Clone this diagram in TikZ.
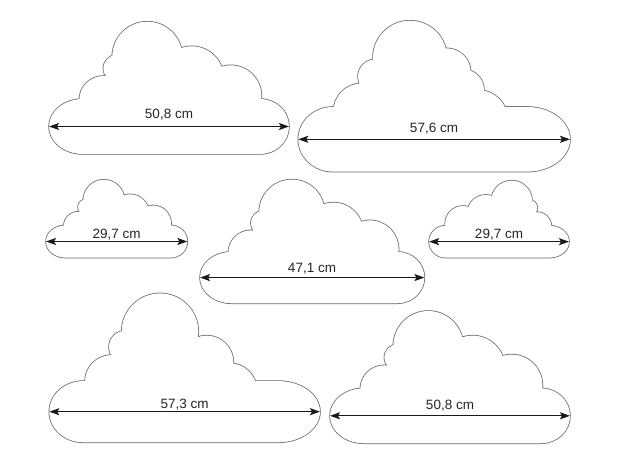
\documentclass[tikz,border=0pt]{standalone}
\usepackage{fontspec}
\setmainfont{Liberation Sans}
\usetikzlibrary{arrows.meta}

\tikzset{
	cloud/.style={fill=white, preaction={draw=black!60, line width=1.5pt}},
	dim/.style={{Stealth[length=10pt,width=7pt,inset=2pt]}-{Stealth[length=10pt,width=7pt,inset=2pt]}, line width=1.3pt, black!90},
	sizelabel/.style={anchor=base, font=\fontsize{13.5}{16}\selectfont, text=black!85}
}

% cloud outlines, local units, origin at the lower left corner
\newcommand{\cloudA}{%
	\path[cloud] (34,27.5) ellipse [x radius=34, y radius=27.5]
		(211,27.5) ellipse [x radius=29, y radius=27.5]
		(34,0) -- (211,0) -- (211,55) -- (34,55) -- cycle
		(54.3,54) circle (24) (67.7,85.7) circle (13.3) (98.3,97.3) circle (35)
		(142.7,75.7) circle (32) (181.7,58) circle (30.7);
	\fill[white] (36,3) -- (36,53) -- (57,76) -- (66,100) -- (130,104) -- (180,82) -- (209,53) -- (209,3) -- cycle;
}
\newcommand{\cloudB}{%
	\path[cloud] (35,32.4) ellipse [x radius=35, y radius=32.4]
		(228.4,32.4) ellipse [x radius=43.3, y radius=32.4]
		(35,0) -- (228.4,0) -- (228.4,64.8) -- (35,64.8) -- cycle
		(63.4,60) circle (28.3) (77,95) circle (17.3) (111.7,114) circle (37)
		(148.4,99.4) circle (24) (165,81.7) circle (20.7) (179.8,52) circle (29.7);
	\fill[white] (37,3) -- (37,62) -- (62,86) -- (80,110) -- (130,120) -- (150,98) -- (168,78) -- (195,60) -- (226,3) -- cycle;
}
\newcommand{\cloudC}{%
	\path[cloud] (34,30.6) ellipse [x radius=34, y radius=30.6]
		(229,30.6) ellipse [x radius=41.7, y radius=30.6]
		(34,0) -- (229,0) -- (229,61.2) -- (34,61.2) -- cycle
		(62.4,60.6) circle (26.7) (76,95.3) circle (16.3) (110.7,110.6) circle (38.3)
		(157.4,80) circle (26.7) (180.7,52.3) circle (26.7);
	\fill[white] (36,3) -- (36,59) -- (60,84) -- (78,108) -- (130,118) -- (160,92) -- (195,58) -- (227,3) -- cycle;
}

\begin{document}
\begin{tikzpicture}[x=1pt,y=1pt]
	\useasboundingbox (0,0) rectangle (620,465);

	% top row
	\begin{scope}[shift={(49,311)}]
		\cloudA
		\coordinate (c1w) at (0,27.5);
		\coordinate (c1e) at (240,27.5);
	\end{scope}
	\begin{scope}[shift={(298.3,293.3)}]
		\cloudB
		\coordinate (c2w) at (0,32.4);
		\coordinate (c2e) at (271.7,32.4);
	\end{scope}

	% middle row
	\begin{scope}[shift={(46,207.3)}, scale=0.589]
		\cloudA
		\coordinate (c3w) at (0,27.5);
		\coordinate (c3e) at (240,27.5);
	\end{scope}
	\begin{scope}[shift={(200,161.7)}, scale=0.935]
		\cloudA
		\coordinate (c4w) at (0,27.5);
		\coordinate (c4e) at (240,27.5);
	\end{scope}
	\begin{scope}[shift={(569,207.3)}, xscale=-0.583, yscale=0.583]
		\cloudA
		\coordinate (c5e) at (0,27.5);
		\coordinate (c5w) at (240,27.5);
	\end{scope}

	% bottom row
	\begin{scope}[shift={(49.3,22.7)}]
		\cloudC
		\coordinate (c6w) at (0,30.6);
		\coordinate (c6e) at (270.7,30.6);
	\end{scope}
	\begin{scope}[shift={(330,21.7)}]
		\cloudA
		\coordinate (c7w) at (0,27.5);
		\coordinate (c7e) at (240,27.5);
	\end{scope}

	% widths
	\draw[dim] (c1w) -- (c1e);
	\draw[dim] (c2w) -- (c2e);
	\draw[dim] (c3w) -- (c3e);
	\draw[dim] (c4w) -- (c4e);
	\draw[dim] (c5w) -- (c5e);
	\draw[dim] (c6w) -- (c6e);
	\draw[dim] (c7w) -- (c7e);

	\node[sizelabel] (c1t) at (169,346) {50,8 cm};
	\node[sizelabel] (c2t) at (434,332.3) {57,6 cm};
	\node[sizelabel] (c3t) at (116.7,226) {29,7 cm};
	\node[sizelabel] (c4t) at (312,192.4) {47,1 cm};
	\node[sizelabel] (c5t) at (499,226) {29,7 cm};
	\node[sizelabel] (c6t) at (184.7,56.7) {57,3 cm};
	\node[sizelabel] (c7t) at (450,55) {50,8 cm};
\end{tikzpicture}
\end{document}
